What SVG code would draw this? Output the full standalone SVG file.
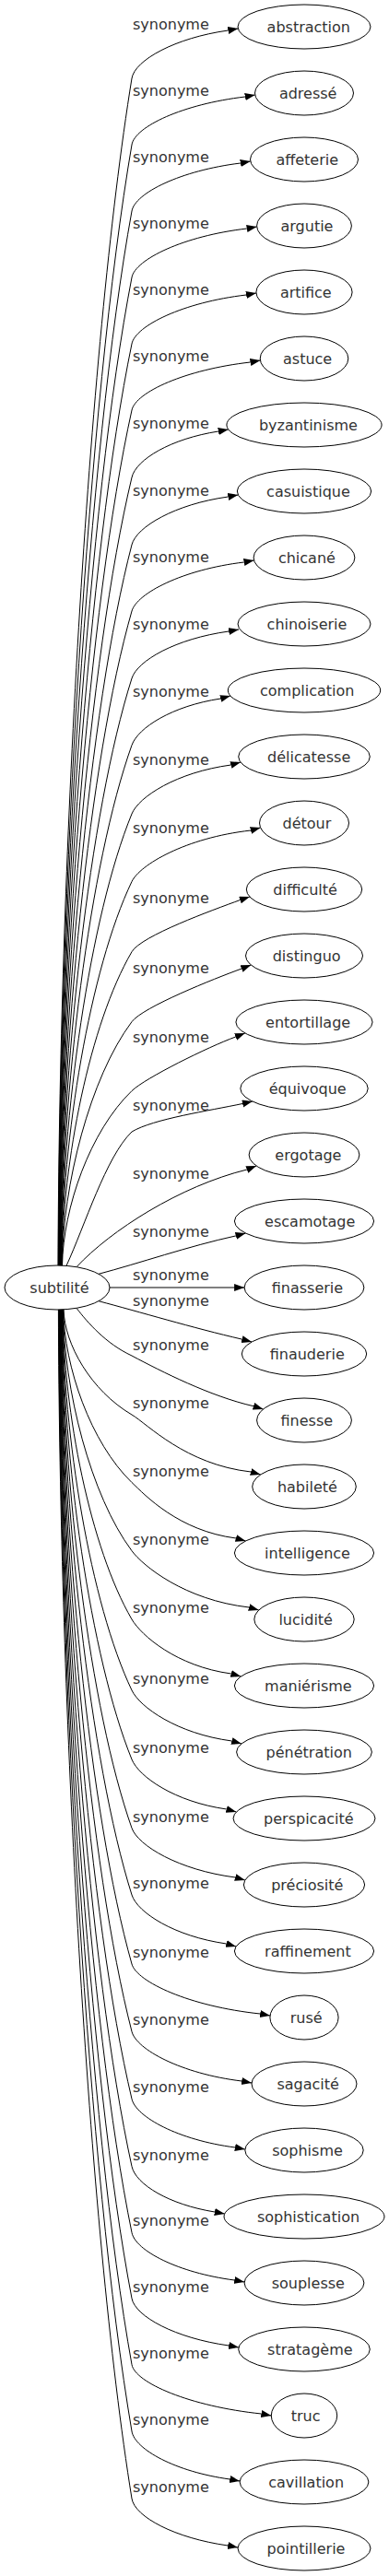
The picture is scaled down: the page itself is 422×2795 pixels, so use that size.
<svg xmlns="http://www.w3.org/2000/svg" width="422" height="2795" viewBox="0 0 422 2795">
<style>
.n ellipse{fill:#fff;stroke:#000;stroke-width:1}
.n text,.lb{font-family:"DejaVu Sans",Verdana,sans-serif;font-size:16px;fill:#333}
#edges path{fill:none;stroke:#000;stroke-width:1;marker-end:url(#arr)}
</style>
<defs>
<marker id="arr" markerUnits="userSpaceOnUse" markerWidth="12" markerHeight="9" refX="11" refY="4" orient="auto"><path d="M0,0 L11,4 L0,8 z" fill="#000"/></marker>
</defs>
<rect width="422" height="2795" fill="#fff"/>
<g id="edges">
<path d="M63,1373.2 C64,948 95,381.2 143,85 C146.2,65.3 190,41 247.5,33 L258.3,31"/>
<path d="M63.3,1373.2 C64.3,971.7 95.2,436.7 143,157 C146.4,137.3 198.3,113 265.9,105 L276.7,103"/>
<path d="M63.6,1373.2 C64.6,995.5 95.4,492.1 143,229 C146.6,209.3 196.1,185 260.9,177 L271.7,175"/>
<path d="M63.9,1373.2 C64.9,1019.2 95.5,547.6 143,301 C146.8,281.4 199.2,256 267.8,248 L278.6,246"/>
<path d="M64.2,1373.2 C65.2,1043 95.7,603 143,373 C147,353.4 198.8,328 267.1,320 L277.9,318"/>
<path d="M64.5,1373.2 C65.5,1066.8 95.9,658.4 143,445 C147.3,425.5 200.9,401 271.6,393 L282.4,391"/>
<path d="M64.8,1373.2 C65.8,1090.9 96.1,714.7 143,518 C147.6,498.5 185.3,476 236.9,468 L247.7,466"/>
<path d="M65.1,1373.2 C66.1,1115 96.3,770.9 143,591 C148,571.6 190,547 247.5,539 L258.3,537"/>
<path d="M65.4,1373.2 C66.4,1138.7 96.4,826.3 143,663 C148.5,643.8 197.8,618 264.7,610 L275.5,608"/>
<path d="M65.7,1373.2 C66.7,1162.8 96.6,882.5 143,736 C149,716.9 190.3,693 248.2,685 L259,683"/>
<path d="M66,1373.2 C67,1186.7 96.8,938.3 143,808.5 C149.7,789.7 186.4,766 239.4,758 L249.9,755"/>
<path d="M66.3,1373.2 C67.3,1211.3 97,995.7 143,883 C150.6,864.5 191.4,838 250.5,830 L261,827"/>
<path d="M66.6,1373.2 C67.6,1235.6 97.2,1052.3 143,956.5 C151.6,938.5 201.1,909 272.1,901 L282.6,898"/>
<path d="M66.9,1373.2 C67.9,1260.7 97.3,1111 143,1032.7 C153.1,1015.4 230.5,987.5 260.5,976.5 L270.9,973"/>
<path d="M67.2,1373.2 C68.2,1285.7 97.5,1169.4 143,1108.6 C155,1092.6 232.1,1062 262.1,1051 L272.3,1047"/>
<path d="M67.5,1373.2 C68.5,1310.5 97.7,1227.2 143,1183.6 C157.4,1169.7 225.6,1136 255.6,1125 L265.8,1121"/>
<path d="M72,1373.4 C92,1330 115,1255 143,1228 C166,1214 228,1205 263,1197.5 L273.8,1195"/>
<path d="M83,1374.7 C120,1335 195,1287 267.9,1269 L278.1,1265"/>
<path d="M107,1382.3 C150,1371 205,1352 255.9,1340.9 L266.5,1338"/>
<path d="M119,1397 L265.1,1397"/>
<path d="M107,1411.7 C150,1423 210,1441 262.5,1453.1 L273.1,1456"/>
<path d="M83,1419.3 C95,1435 115,1458 143,1471 C175,1488 228,1515 275,1525.7 L285.5,1529"/>
<path d="M69,1420.8 C70,1458.6 98.6,1508.8 143,1535 C160.2,1545.2 201.1,1589 272.2,1597 L282.7,1600"/>
<path d="M68.65,1420.8 C69.65,1482.9 98.4,1565.4 143,1608.5 C157.4,1622.4 193.9,1661 256,1669 L266.5,1672"/>
<path d="M68.3,1420.8 C69.3,1507.4 98.2,1622.5 143,1682.7 C154.9,1698.8 200.2,1736 270.2,1744 L280.7,1747"/>
<path d="M67.95,1420.8 C68.95,1531.9 98,1679.7 143,1757 C153.1,1774.3 191.5,1808 250.8,1816 L261.3,1819"/>
<path d="M67.6,1420.8 C68.6,1557.3 97.8,1739 143,1834 C151.6,1852.1 191.8,1881 251.5,1889 L262,1892"/>
<path d="M67.25,1420.8 C68.25,1582 97.6,1796.8 143,1909 C150.5,1927.6 189.3,1955 245.8,1963 L256.3,1966"/>
<path d="M66.9,1420.8 C67.9,1606.6 97.3,1854.1 143,1983.5 C149.7,2002.4 193.5,2029 255.3,2037 L265.8,2040"/>
<path d="M66.55,1420.8 C67.55,1630.6 97.1,1910 143,2056 C149,2075.1 189.2,2101 245.6,2109 L256.1,2112"/>
<path d="M66.2,1420.8 C67.2,1655.3 96.9,1967.7 143,2131 C148.4,2150.3 205.6,2177 282.2,2185 L293,2187"/>
<path d="M65.85,1420.8 C66.85,1679.5 96.7,2024.1 143,2204.3 C148,2223.7 196.6,2250 262.2,2258 L273,2260"/>
<path d="M65.5,1420.8 C66.5,1703.6 96.5,2080.4 143,2277.4 C147.6,2296.9 193.4,2322 255,2330 L265.8,2332"/>
<path d="M65.15,1420.8 C66.15,1727.8 96.3,2136.8 143,2350.6 C147.3,2370.1 183.4,2392 232.9,2400 L243.7,2402"/>
<path d="M64.8,1420.8 C65.8,1751.5 96.1,2192.1 143,2422.4 C147,2442 193.1,2466 254.3,2474 L265.1,2476"/>
<path d="M64.45,1420.8 C65.45,1775 95.9,2247.1 143,2493.8 C146.8,2513.4 190.3,2537 248.2,2545 L259,2547"/>
<path d="M64.1,1420.8 C65.1,1798.7 95.7,2302.3 143,2565.6 C146.5,2585.3 206.2,2611 283.5,2619 L294.3,2621"/>
<path d="M63.75,1420.8 C64.75,1822.6 95.5,2358.1 143,2638 C146.3,2657.7 190.8,2682 249.3,2690 L260.1,2692"/>
<path d="M63.4,1420.8 C64.4,1846.7 95.2,2414.3 143,2711 C146.2,2730.8 189.9,2754 247.2,2762 L258,2764"/>
<text class="lb" x="144" y="32">synonyme</text>
<text class="lb" x="144" y="104">synonyme</text>
<text class="lb" x="144" y="176">synonyme</text>
<text class="lb" x="144" y="248">synonyme</text>
<text class="lb" x="144" y="320">synonyme</text>
<text class="lb" x="144" y="392">synonyme</text>
<text class="lb" x="144" y="465">synonyme</text>
<text class="lb" x="144" y="538">synonyme</text>
<text class="lb" x="144" y="610">synonyme</text>
<text class="lb" x="144" y="683">synonyme</text>
<text class="lb" x="144" y="755.5">synonyme</text>
<text class="lb" x="144" y="830">synonyme</text>
<text class="lb" x="144" y="903.5">synonyme</text>
<text class="lb" x="144" y="979.7">synonyme</text>
<text class="lb" x="144" y="1055.6">synonyme</text>
<text class="lb" x="144" y="1130.6">synonyme</text>
<text class="lb" x="144" y="1205">synonyme</text>
<text class="lb" x="144" y="1279">synonyme</text>
<text class="lb" x="144" y="1342">synonyme</text>
<text class="lb" x="144" y="1389">synonyme</text>
<text class="lb" x="144" y="1417">synonyme</text>
<text class="lb" x="144" y="1464.5">synonyme</text>
<text class="lb" x="144" y="1528">synonyme</text>
<text class="lb" x="144" y="1601.5">synonyme</text>
<text class="lb" x="144" y="1675.7">synonyme</text>
<text class="lb" x="144" y="1750">synonyme</text>
<text class="lb" x="144" y="1827">synonyme</text>
<text class="lb" x="144" y="1902">synonyme</text>
<text class="lb" x="144" y="1976.5">synonyme</text>
<text class="lb" x="144" y="2049">synonyme</text>
<text class="lb" x="144" y="2124">synonyme</text>
<text class="lb" x="144" y="2197.3">synonyme</text>
<text class="lb" x="144" y="2270.4">synonyme</text>
<text class="lb" x="144" y="2343.6">synonyme</text>
<text class="lb" x="144" y="2415.4">synonyme</text>
<text class="lb" x="144" y="2486.8">synonyme</text>
<text class="lb" x="144" y="2558.6">synonyme</text>
<text class="lb" x="144" y="2631">synonyme</text>
<text class="lb" x="144" y="2704">synonyme</text>
</g>
<g id="n-subtilite" class="n"><ellipse cx="62" cy="1397" rx="57" ry="24"/><text x="32.3" y="1403">subtilité</text></g>
<g id="n-abstraction" class="n"><ellipse cx="330" cy="29" rx="72" ry="24"/><text x="289.6" y="35">abstraction</text></g>
<g id="n-adresse" class="n"><ellipse cx="330" cy="101" rx="53.5" ry="24"/><text x="302.9" y="107">adressé</text></g>
<g id="n-affeterie" class="n"><ellipse cx="330" cy="173" rx="58.5" ry="24"/><text x="299.4" y="179">affeterie</text></g>
<g id="n-argutie" class="n"><ellipse cx="330" cy="245" rx="51.4" ry="24"/><text x="304.5" y="251">argutie</text></g>
<g id="n-artifice" class="n"><ellipse cx="330" cy="317" rx="52.1" ry="24"/><text x="303.9" y="323">artifice</text></g>
<g id="n-astuce" class="n"><ellipse cx="330" cy="389" rx="47.8" ry="24"/><text x="307" y="395">astuce</text></g>
<g id="n-byzantinisme" class="n"><ellipse cx="330" cy="461" rx="84.1" ry="24"/><text x="280.9" y="467">byzantinisme</text></g>
<g id="n-casuistique" class="n"><ellipse cx="330" cy="533" rx="72.7" ry="24"/><text x="289.1" y="539">casuistique</text></g>
<g id="n-chicane" class="n"><ellipse cx="330" cy="605" rx="54.9" ry="24"/><text x="301.9" y="611">chicané</text></g>
<g id="n-chinoiserie" class="n"><ellipse cx="330" cy="677" rx="72" ry="24"/><text x="289.6" y="683">chinoiserie</text></g>
<g id="n-complication" class="n"><ellipse cx="330" cy="749" rx="82.7" ry="24"/><text x="282" y="755">complication</text></g>
<g id="n-delicatesse" class="n"><ellipse cx="330" cy="821" rx="71.3" ry="24"/><text x="290.1" y="827">délicatesse</text></g>
<g id="n-detour" class="n"><ellipse cx="330" cy="893" rx="48.5" ry="24"/><text x="306.5" y="899">détour</text></g>
<g id="n-difficulte" class="n"><ellipse cx="330" cy="965" rx="62.7" ry="24"/><text x="296.3" y="971">difficulté</text></g>
<g id="n-distinguo" class="n"><ellipse cx="330" cy="1037" rx="63.5" ry="24"/><text x="295.7" y="1043">distinguo</text></g>
<g id="n-entortillage" class="n"><ellipse cx="330" cy="1109" rx="74.1" ry="24"/><text x="288.1" y="1115">entortillage</text></g>
<g id="n-equivoque" class="n"><ellipse cx="330" cy="1181" rx="69.2" ry="24"/><text x="291.7" y="1187">équivoque</text></g>
<g id="n-ergotage" class="n"><ellipse cx="330" cy="1253" rx="59.9" ry="24"/><text x="298.3" y="1259">ergotage</text></g>
<g id="n-escamotage" class="n"><ellipse cx="330" cy="1325" rx="75.6" ry="24"/><text x="287.1" y="1331">escamotage</text></g>
<g id="n-finasserie" class="n"><ellipse cx="330" cy="1397" rx="64.9" ry="24"/><text x="294.7" y="1403">finasserie</text></g>
<g id="n-finauderie" class="n"><ellipse cx="330" cy="1469" rx="67.7" ry="24"/><text x="292.7" y="1475">finauderie</text></g>
<g id="n-finesse" class="n"><ellipse cx="330" cy="1541" rx="51.4" ry="24"/><text x="304.5" y="1547">finesse</text></g>
<g id="n-habilete" class="n"><ellipse cx="330" cy="1613" rx="56.3" ry="24"/><text x="300.9" y="1619">habileté</text></g>
<g id="n-intelligence" class="n"><ellipse cx="330" cy="1685" rx="75.6" ry="24"/><text x="287.1" y="1691">intelligence</text></g>
<g id="n-lucidite" class="n"><ellipse cx="330" cy="1757" rx="54.2" ry="24"/><text x="302.4" y="1763">lucidité</text></g>
<g id="n-manierisme" class="n"><ellipse cx="330" cy="1829" rx="75.6" ry="24"/><text x="287.1" y="1835">maniérisme</text></g>
<g id="n-penetration" class="n"><ellipse cx="330" cy="1901" rx="73.4" ry="24"/><text x="288.6" y="1907">pénétration</text></g>
<g id="n-perspicacite" class="n"><ellipse cx="330" cy="1973" rx="77" ry="24"/><text x="286.1" y="1979">perspicacité</text></g>
<g id="n-preciosite" class="n"><ellipse cx="330" cy="2045" rx="65.6" ry="24"/><text x="294.2" y="2051">préciosité</text></g>
<g id="n-raffinement" class="n"><ellipse cx="330" cy="2117" rx="75.6" ry="24"/><text x="287.1" y="2123">raffinement</text></g>
<g id="n-ruse" class="n"><ellipse cx="330" cy="2189" rx="37.1" ry="24"/><text x="314.7" y="2195">rusé</text></g>
<g id="n-sagacite" class="n"><ellipse cx="330" cy="2261" rx="57" ry="24"/><text x="300.4" y="2267">sagacité</text></g>
<g id="n-sophisme" class="n"><ellipse cx="330" cy="2333" rx="64.2" ry="24"/><text x="295.2" y="2339">sophisme</text></g>
<g id="n-sophistication" class="n"><ellipse cx="330" cy="2405" rx="87" ry="24"/><text x="278.9" y="2411">sophistication</text></g>
<g id="n-souplesse" class="n"><ellipse cx="330" cy="2477" rx="64.9" ry="24"/><text x="294.7" y="2483">souplesse</text></g>
<g id="n-stratageme" class="n"><ellipse cx="330" cy="2549" rx="71.3" ry="24"/><text x="290.1" y="2555">stratagème</text></g>
<g id="n-truc" class="n"><ellipse cx="330" cy="2621" rx="35.7" ry="24"/><text x="315.7" y="2627">truc</text></g>
<g id="n-cavillation" class="n"><ellipse cx="330" cy="2693" rx="69.9" ry="24"/><text x="291.2" y="2699">cavillation</text></g>
<g id="n-pointillerie" class="n"><ellipse cx="330" cy="2765" rx="72" ry="24"/><text x="289.6" y="2771">pointillerie</text></g>
</svg>
